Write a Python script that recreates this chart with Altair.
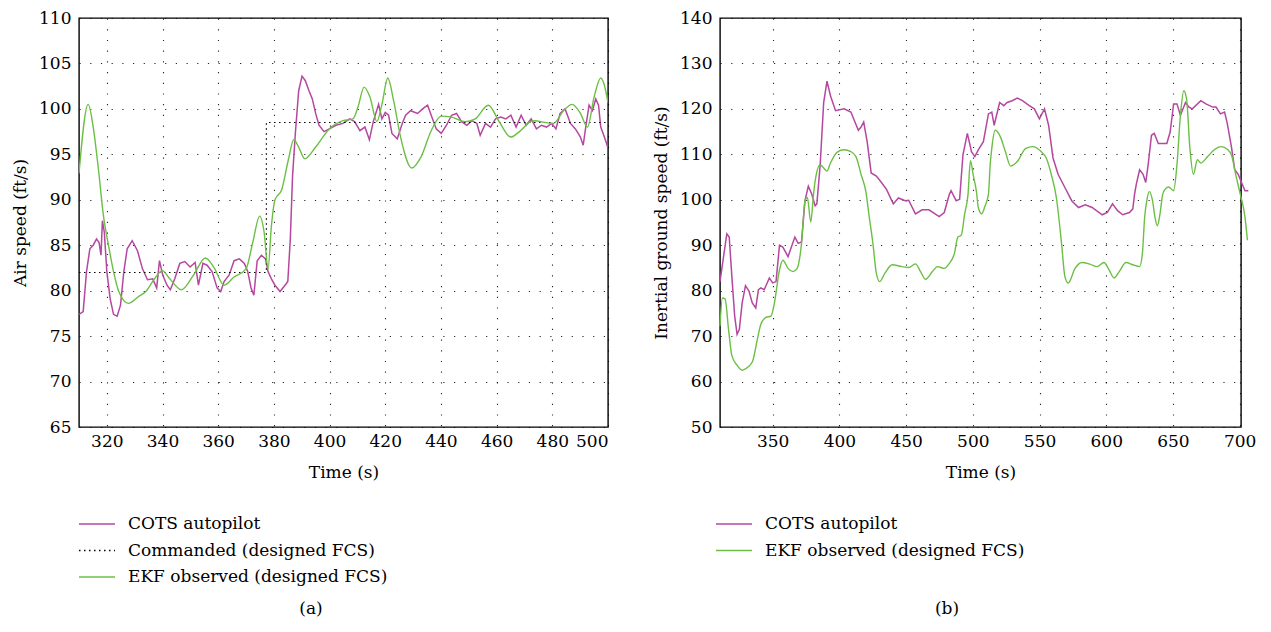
import altair as alt
import pandas as pd

FONT = "DejaVu Serif"
PURPLE = "#b5479f"
GREEN = "#6cbf45"
BLACK = "#000000"

# ---------------- Panel (a): air speed ----------------
a_cots_t = [310.0, 311.5, 312.7, 313.9, 315.1, 316.3, 317.2, 317.9, 318.4, 319.1, 320.0, 321.2, 322.4, 323.7,
            324.9, 326.1, 327.3, 329.1, 331.0, 332.8, 334.6, 336.5, 337.9, 338.9, 340.1, 341.6, 342.8, 344.4,
            346.2, 348.0, 349.9, 351.7, 352.9, 354.5, 356.0, 357.8, 359.6, 360.9, 362.1, 363.9, 365.7, 367.6,
            369.4, 370.6, 371.8, 372.8, 374.0, 375.5, 377.0, 377.9, 379.1, 380.4, 382.2, 384.0, 385.0, 385.9,
            386.7, 387.7, 388.9, 390.1, 391.3, 392.6, 393.8, 395.0, 396.2, 398.0, 399.9, 402.3, 404.8, 407.2,
            409.0, 410.9, 412.7, 414.3, 415.7, 417.6, 418.8, 420.0, 421.2, 422.4, 424.3, 426.1, 427.3, 429.1,
            431.6, 433.4, 435.2, 436.5, 438.3, 440.1, 442.0, 443.8, 445.6, 447.4, 449.3, 451.1, 452.9, 454.1,
            456.0, 457.8, 459.6, 461.5, 463.3, 465.1, 467.0, 468.8, 470.6, 472.4, 474.3, 476.1, 477.9, 479.8,
            481.3, 482.8, 484.6, 486.5, 488.3, 490.1, 491.1, 492.0, 493.2, 494.4, 495.6, 496.6, 497.4, 498.7,
            499.9]
a_cots_v = [77.4, 77.7, 82.1, 84.6, 85.0, 85.7, 85.3, 83.9, 87.7, 86.4, 82.1, 79.1, 77.4, 77.2,
            78.4, 82.1, 84.6, 85.5, 84.4, 82.4, 81.2, 81.3, 80.3, 83.3, 81.7, 80.6, 80.1, 81.3,
            83.0, 83.2, 82.6, 83.1, 80.6, 83.0, 82.8, 82.1, 80.3, 79.9, 81.0, 81.7, 83.3, 83.5,
            83.0, 82.1, 80.3, 79.5, 83.3, 83.9, 83.5, 82.1, 81.3, 80.6, 79.9, 80.6, 81.0, 85.7,
            92.6, 97.3, 102.0, 103.6, 103.1, 102.0, 101.1, 99.5, 98.2, 97.5, 97.8, 98.2, 98.4, 98.9,
            98.6, 97.6, 98.0, 96.6, 98.6, 100.5, 98.9, 99.6, 99.3, 97.3, 96.7, 98.4, 99.3, 99.8,
            99.5, 100.0, 100.4, 99.3, 97.8, 97.3, 98.2, 99.3, 99.5, 98.6, 98.2, 98.7, 98.4, 97.1,
            98.4, 98.0, 98.9, 99.1, 98.9, 99.3, 98.0, 99.3, 98.2, 98.9, 97.8, 98.2, 98.0, 98.4,
            97.8, 99.5, 100.0, 98.4, 97.8, 96.9, 96.0, 98.0, 100.4, 99.8, 101.1, 100.4, 98.0, 96.9,
            95.8]

a_cmd_t = [310.0, 377.3, 377.3, 500.0]
a_cmd_v = [82.0, 82.0, 98.5, 98.5]

a_ekf_t = [310.0, 313.3, 315.1, 317.0, 318.8, 320.6, 322.4, 324.3, 327.7, 331.6, 334.0, 337.1, 339.9, 342.6,
           346.8, 351.1, 355.4, 358.4, 362.1, 365.7, 370.0, 372.4, 374.9, 376.5, 377.9, 379.1, 380.4, 382.8,
           385.2, 387.1, 388.9, 391.1, 395.0, 399.9, 404.8, 408.4, 410.2, 412.4, 414.5, 417.0, 418.8, 420.9,
           423.0, 425.5, 429.5, 432.8, 436.5, 440.1, 443.8, 448.7, 452.3, 457.0, 460.9, 465.1, 468.2, 473.0,
           480.4, 484.0, 487.1, 490.1, 492.6, 495.0, 497.4, 498.7, 500.0]
a_ekf_v = [92.9, 100.5, 98.0, 93.3, 88.2, 85.0, 82.1, 79.9, 78.6, 79.4, 79.9, 81.3, 82.2, 81.3,
           80.1, 81.7, 83.6, 82.6, 80.6, 81.5, 82.4, 85.3, 88.2, 86.4, 82.4, 87.1, 90.0, 91.1,
           94.4, 96.6, 95.8, 94.5, 95.8, 97.8, 98.7, 98.9, 100.2, 102.4, 101.3, 98.6, 100.5, 103.4,
           100.9, 96.9, 93.5, 94.7, 97.6, 99.2, 99.1, 98.6, 98.9, 100.4, 98.6, 96.9, 97.5, 98.7,
           98.4, 99.8, 100.5, 99.5, 98.0, 101.3, 103.4, 102.6, 100.7]

a_xticks = [320, 340, 360, 380, 400, 420, 440, 460, 480, 500]
a_yticks = [65, 70, 75, 80, 85, 90, 95, 100, 105, 110]

# ---------------- Panel (b): inertial ground speed ----------------
b_cots_t = [310.5, 315.6, 317.4, 319.4, 321.5, 323.3, 325.0, 327.1, 329.6, 332.2, 334.7, 337.3, 339.3, 341.1,
            343.6, 347.5, 350.0, 352.5, 355.1, 357.6, 361.5, 366.6, 369.1, 371.6, 374.2, 376.7, 379.3, 381.8,
            383.1, 385.6, 388.2, 390.7, 393.3, 397.1, 403.5, 408.6, 411.1, 414.2, 416.2, 418.2, 420.8, 423.8,
            427.7, 431.5, 435.3, 440.4, 444.2, 449.3, 451.9, 457.0, 462.0, 467.1, 474.8, 478.6, 482.4, 483.7,
            487.5, 490.1, 492.6, 495.9, 499.0, 501.5, 504.1, 507.9, 511.7, 514.2, 516.0, 520.1, 523.2, 525.7,
            529.5, 533.3, 537.2, 542.3, 546.1, 549.9, 553.7, 556.8, 560.1, 563.9, 569.0, 574.1, 579.2, 584.3,
            589.4, 597.0, 600.8, 604.7, 608.5, 612.3, 617.4, 619.9, 621.2, 622.5, 625.0, 627.6, 629.6, 631.4,
            633.9, 636.0, 639.0, 645.4, 647.9, 650.5, 653.0, 655.6, 659.4, 662.0, 664.5, 670.9, 674.7, 679.8,
            682.3, 685.6, 688.7, 690.7, 693.8, 696.3, 698.9, 701.4, 704.0, 706.5]
b_cots_v = [82.0, 92.5, 91.8, 83.1, 74.4, 70.4, 71.5, 77.3, 81.1, 79.9, 77.3, 76.2, 80.2, 80.6,
            80.2, 82.8, 81.7, 82.0, 90.0, 89.6, 87.5, 91.8, 90.4, 90.7, 99.8, 103.0, 101.2, 98.7,
            99.1, 107.7, 121.4, 126.1, 122.9, 119.6, 120.0, 119.3, 117.5, 115.3, 116.0, 117.1, 112.8, 105.9,
            105.2, 103.8, 102.3, 99.1, 100.4, 99.8, 99.9, 96.9, 97.8, 97.8, 96.3, 97.2, 101.2, 102.0,
            99.8, 100.1, 109.9, 114.6, 110.6, 109.5, 111.0, 112.8, 118.9, 119.3, 116.4, 121.4, 120.7, 121.4,
            121.8, 122.4, 121.8, 120.7, 120.0, 117.8, 120.0, 116.4, 109.2, 105.6, 102.7, 99.8, 98.3, 98.9,
            98.3, 96.7, 97.2, 99.1, 97.6, 96.7, 97.2, 98.0, 101.2, 103.4, 106.6, 105.6, 103.8, 107.7,
            114.2, 114.6, 112.4, 112.4, 114.9, 121.1, 121.1, 118.6, 121.4, 120.4, 120.0, 121.8, 121.1, 120.4,
            120.4, 118.9, 119.3, 116.8, 111.7, 106.6, 105.6, 103.8, 102.0, 102.0]

b_ekf_t = [310.5, 312.3, 314.3, 316.9, 319.4, 323.3, 327.1, 329.6, 334.7, 338.5, 341.1, 344.9, 348.7, 351.3,
           355.1, 357.6, 361.5, 365.3, 368.3, 371.6, 374.2, 376.0, 378.5, 380.6, 381.8, 385.6, 388.2, 390.7,
           393.3, 398.4, 403.5, 408.6, 412.4, 416.2, 420.0, 422.0, 425.1, 427.7, 430.2, 434.0, 439.6, 446.8,
           451.9, 457.0, 460.8, 464.6, 469.7, 473.5, 478.6, 482.4, 486.2, 488.8, 491.3, 493.9, 496.4, 498.2,
           500.2, 502.8, 504.1, 506.6, 509.2, 511.7, 513.0, 514.2, 516.8, 520.6, 524.4, 528.3, 533.3, 539.7,
           544.8, 551.2, 555.0, 558.8, 562.6, 566.5, 569.0, 571.5, 576.6, 581.7, 588.1, 593.2, 598.3, 602.1,
           605.9, 609.7, 614.8, 619.9, 625.0, 627.1, 628.8, 630.5, 632.2, 634.7, 636.5, 638.3, 640.3, 642.3,
           644.1, 646.7, 650.5, 653.0, 655.6, 658.1, 660.2, 662.7, 665.3, 668.3, 670.9, 676.0, 681.0, 686.1,
           691.2, 693.8, 697.6, 700.5, 704.0, 705.8]
b_ekf_v = [72.2, 78.4, 78.2, 71.5, 65.7, 63.6, 62.5, 62.8, 64.3, 69.3, 72.6, 74.1, 74.4, 77.3,
           84.6, 86.7, 84.9, 84.2, 84.9, 90.4, 99.8, 100.5, 95.1, 101.2, 104.1, 107.7, 107.0, 106.3,
           108.1, 110.5, 111.0, 110.6, 109.5, 105.6, 101.5, 97.0, 90.4, 83.8, 82.0, 83.8, 85.7, 85.3,
           85.1, 85.9, 84.2, 82.5, 84.2, 85.3, 84.9, 86.0, 88.2, 91.8, 92.2, 96.9, 101.2, 108.6,
           105.6, 101.6, 98.3, 96.9, 98.7, 101.2, 107.7, 111.3, 115.3, 113.9, 110.6, 107.4, 108.4, 111.3,
           111.7, 110.6, 109.2, 105.6, 100.5, 90.4, 83.1, 81.7, 84.9, 86.2, 85.8, 85.3, 86.2, 84.6,
           82.8, 84.2, 86.2, 85.7, 85.3, 88.2, 96.2, 100.0, 101.8, 99.8, 96.2, 94.3, 96.9, 101.2,
           102.3, 102.8, 102.0, 107.7, 118.6, 124.0, 122.2, 111.3, 105.6, 108.8, 108.1, 109.5, 111.0, 111.7,
           111.0, 109.9, 104.8, 101.2, 96.2, 91.1]

b_xticks = [350, 400, 450, 500, 550, 600, 650, 700]
b_yticks = [50, 60, 70, 80, 90, 100, 110, 120, 130, 140]

a_legend = ["COTS autopilot", "Commanded (designed FCS)", "EKF observed (designed FCS)"]
a_legend_colors = [PURPLE, BLACK, GREEN]
a_legend_dash = [None, [1.5, 3.5], None]
b_legend = ["COTS autopilot", "EKF observed (designed FCS)"]
b_legend_colors = [PURPLE, GREEN]
b_legend_dash = [None, None]

PLOT_H = 409


def frame(t, v):
    return pd.DataFrame({"t": t, "v": v, "i": list(range(len(t)))})


def panel(series, xdom, xticks, ydom, yticks, ytitle, width, labels, colors, dashes,
          caption, cap_x, clip, leg_x):
    xenc = alt.X("t:Q", scale=alt.Scale(domain=xdom, nice=False, zero=False),
                 axis=alt.Axis(values=xticks, title="Time (s)", format="d"))
    yenc = alt.Y("v:Q", scale=alt.Scale(domain=ydom, nice=False, zero=False),
                 axis=alt.Axis(values=yticks, title=ytitle, format="d"))
    layers = []
    for df, color, dash, interp, sw in series:
        kw = dict(color=color, strokeWidth=sw, interpolate=interp, clip=clip)
        if dash is not None:
            kw["strokeDash"] = dash
        layers.append(alt.Chart(df).mark_line(**kw).encode(x=xenc, y=yenc, order="i:Q"))
    for k, (lab, col, dash) in enumerate(zip(labels, colors, dashes)):
        ldf = pd.DataFrame({"label": [lab]})
        ypos = PLOT_H + 97 + 26.5 * k
        rkw = dict(color=col, strokeWidth=1.4)
        if dash is not None:
            rkw["strokeDash"] = dash
        layers.append(alt.Chart(ldf).mark_rule(**rkw).encode(
            x=alt.value(leg_x), x2=alt.value(leg_x + 36), y=alt.value(ypos)))
        layers.append(alt.Chart(ldf).mark_text(align="left", baseline="middle", font=FONT,
                                               fontSize=17, color="#000").encode(
            x=alt.value(leg_x + 49), y=alt.value(ypos), text="label:N"))
    cdf = pd.DataFrame({"cap": [caption]})
    layers.append(alt.Chart(cdf).mark_text(align="center", baseline="middle", font=FONT,
                                           fontSize=17, color="#000").encode(
        x=alt.value(cap_x), y=alt.value(PLOT_H + 182), text="cap:N"))
    return alt.layer(*layers).properties(width=width, height=PLOT_H)


left = panel(
    [(frame(a_cots_t, a_cots_v), PURPLE, None, "linear", 1.5),
     (frame(a_cmd_t, a_cmd_v), BLACK, [1.5, 3.5], "linear", 1.2),
     (frame(a_ekf_t, a_ekf_v), GREEN, None, "monotone", 1.4)],
    [310, 500], a_xticks, [65, 110], a_yticks, "Air speed (ft/s)", 529,
    a_legend, a_legend_colors, a_legend_dash, "(a)", 232, True, 0)

right = panel(
    [(frame(b_cots_t, b_cots_v), PURPLE, None, "linear", 1.5),
     (frame(b_ekf_t, b_ekf_v), GREEN, None, "monotone", 1.4)],
    [310.5, 701], b_xticks, [50, 140], b_yticks, "Inertial ground speed (ft/s)", 521,
    b_legend, b_legend_colors, b_legend_dash, "(b)", 227, False, -4)

chart = alt.hconcat(left, right, spacing=42).properties(
    padding={"left": 2, "top": 0, "right": 0, "bottom": 0}
).configure_axis(
    labelFont=FONT, titleFont=FONT, labelFontSize=17, titleFontSize=17,
    titleFontWeight="normal", labelColor="#000", titleColor="#000",
    domain=False, ticks=False, grid=True, gridColor="#000",
    gridDash=[1.2, 9.5], gridWidth=1.1, gridOpacity=0.85
).configure_axisX(labelPadding=6, titlePadding=15
).configure_axisY(labelPadding=8, titlePadding=9
).configure_view(stroke="#000", strokeWidth=1.4)

chart.save("out.html", embed_options={"renderer": "svg", "actions": False})
